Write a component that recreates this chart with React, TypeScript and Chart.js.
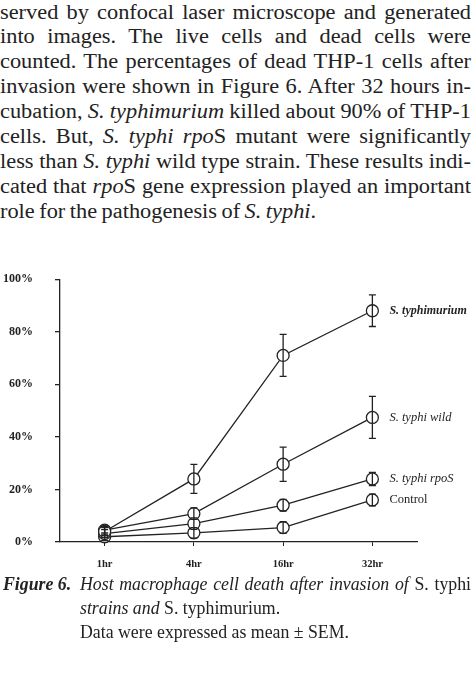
import React, { useEffect, useRef } from 'react';
import { Chart, registerables } from 'chart.js';

Chart.register(...registerables);

// ---- data ----
const timepoints = ['1hr', '4hr', '16hr', '32hr'];
const yTickValues = [0, 20, 40, 60, 80, 100];
const seriesNames = ['S. typhimurium', 'S. typhi wild', 'S. typhi rpoS', 'Control'];
const typhimuriumMean = [4, 24, 71, 88];
const typhimuriumSem = [1.5, 5.5, 8, 6];
const wildMean = [4.5, 10.8, 29.6, 47.4];
const wildSem = [1.5, 2.2, 6.5, 8];
const rpoSMean = [3.2, 7, 14, 24];
const rpoSSem = [1.5, 2.2, 2.2, 2.5];
const controlMean = [2, 3.5, 5.5, 16];
const controlSem = [1.5, 2, 2.2, 2.2];

const means = [typhimuriumMean, wildMean, rpoSMean, controlMean];
const sems = [typhimuriumSem, wildSem, rpoSSem, controlSem];

// ---- styles ----
const INK = '#222';
const SERIF = "'Liberation Serif', 'Times New Roman', serif";
const seriesLabelFonts = [
  `italic bold 12px ${SERIF}`,
  `italic 12.5px ${SERIF}`,
  `italic 12.5px ${SERIF}`,
  `12.5px ${SERIF}`,
];

const errorBarPlugin = {
  id: 'errorBars',
  afterDatasetsDraw(chart: any) {
    const ctx = chart.ctx;
    const yScale = chart.scales.y;
    ctx.save();
    ctx.strokeStyle = INK;
    ctx.lineWidth = 1.3;
    chart.data.datasets.forEach((ds: any, i: number) => {
      const meta = chart.getDatasetMeta(i);
      meta.data.forEach((pt: any, j: number) => {
        const v = ds.data[j];
        const e = sems[i][j];
        const top = yScale.getPixelForValue(v + e);
        const bot = yScale.getPixelForValue(Math.max(0, v - e));
        const x = pt.x;
        ctx.beginPath();
        ctx.moveTo(x, top);
        ctx.lineTo(x, bot);
        ctx.moveTo(x - 3.5, top);
        ctx.lineTo(x + 3.5, top);
        ctx.moveTo(x - 3.5, bot);
        ctx.lineTo(x + 3.5, bot);
        ctx.stroke();
      });
    });
    ctx.restore();
  },
};

const endLabelPlugin = {
  id: 'endLabels',
  afterDraw(chart: any) {
    const ctx = chart.ctx;
    ctx.save();
    ctx.fillStyle = INK;
    ctx.textAlign = 'left';
    ctx.textBaseline = 'middle';
    chart.data.datasets.forEach((ds: any, i: number) => {
      const meta = chart.getDatasetMeta(i);
      const last = meta.data[meta.data.length - 1];
      ctx.font = seriesLabelFonts[i];
      ctx.fillText(ds.label, last.x + 17, last.y);
    });
    ctx.restore();
  },
};

function FigureChart() {
  const ref = useRef<HTMLCanvasElement | null>(null);
  useEffect(() => {
    if (!ref.current) return;
    const chart = new Chart(ref.current, {
      type: 'line',
      data: {
        labels: timepoints,
        datasets: seriesNames.map((name, i) => ({
          label: name,
          data: means[i],
          borderColor: INK,
          borderWidth: 1.3,
          backgroundColor: '#ffffff',
          pointRadius: 6,
          pointHoverRadius: 6,
          pointBorderWidth: 1.3,
          pointBorderColor: INK,
          pointBackgroundColor: '#ffffff',
          pointStyle: 'circle',
          tension: 0,
          fill: false,
          clip: false,
        })),
      },
      options: {
        responsive: false,
        animation: false,
        events: [],
        layout: { padding: { top: 22, right: 58, left: 0, bottom: 0 } },
        plugins: {
          legend: { display: false },
          tooltip: { enabled: false },
          title: { display: false },
        },
        scales: {
          x: {
            type: 'category',
            offset: true,
            afterFit: (s: any) => {
              s.height = 38;
            },
            grid: {
              display: true,
              drawOnChartArea: false,
              drawTicks: true,
              tickLength: 4,
              color: INK,
              lineWidth: 1,
            },
            border: { display: true, color: INK, width: 1.3 },
            ticks: {
              color: INK,
              padding: 12,
              font: { family: SERIF, size: 10.5, weight: 'bold' },
              maxRotation: 0,
            },
          },
          y: {
            min: 0,
            max: 100,
            afterFit: (s: any) => {
              s.width = 60;
            },
            afterBuildTicks: (s: any) => {
              s.ticks = yTickValues.map((v) => ({ value: v }));
            },
            grid: {
              display: true,
              drawOnChartArea: false,
              drawTicks: true,
              tickLength: 5,
              color: INK,
              lineWidth: 1.3,
            },
            border: { display: true, color: INK, width: 1.3 },
            ticks: {
              color: INK,
              padding: 22,
              font: { family: SERIF, size: 12, weight: 'bold' },
              callback: (v: any) => `${v}%`,
            },
          },
        },
      },
      plugins: [errorBarPlugin, endLabelPlugin],
    });
    return () => chart.destroy();
  }, []);
  return (
    <canvas
      ref={ref}
      width={475}
      height={330}
      style={{ position: 'absolute', left: 0, top: 250, width: 475, height: 330 }}
    />
  );
}

const SCALE_X = 1.09;
const lineStyle = (top: number, justify: boolean): React.CSSProperties => ({
  position: 'absolute',
  left: 0,
  top,
  width: 471 / SCALE_X,
  textAlign: justify ? 'justify' : 'left',
  textAlignLast: justify ? 'justify' : 'left',
  whiteSpace: 'nowrap',
  wordSpacing: '-1px',
  transform: `scaleX(${SCALE_X})`,
  transformOrigin: 'left center',
});

export default function App() {
  useEffect(() => {
    document.body.style.margin = '0';
  }, []);
  const pTop = -0.5;
  const lh = 24.9;
  const paragraph: React.ReactNode[] = [
    <>served by confocal laser microscope and generated</>,
    <>into images. The live cells and dead cells were</>,
    <>counted. The percentages of dead THP-1 cells after</>,
    <>invasion were shown in Figure 6. After 32 hours in-</>,
    <>cubation, <i>S. typhimurium</i> killed about 90% of THP-1</>,
    <>cells. But, <i>S. typhi rpo</i>S mutant were significantly</>,
    <>less than <i>S. typhi</i> wild type strain. These results indi-</>,
    <>cated that <i>rpo</i>S gene expression played an important</>,
    <>role for the pathogenesis of <i>S. typhi</i>.</>,
  ];
  return (
    <div
      style={{
        position: 'fixed',
        left: 0,
        top: 0,
        width: 475,
        height: 683,
        overflow: 'hidden',
        background: '#fff',
        color: INK,
        fontFamily: SERIF,
      }}
    >
      <div style={{ position: 'absolute', left: 0, top: 0, width: 475, height: 250, fontSize: 20.5, lineHeight: `${lh}px` }}>
        {paragraph.map((content, i) => (
          <div key={i} style={{ ...lineStyle(pTop + i * lh, i < paragraph.length - 1), height: lh }}>
            {content}
          </div>
        ))}
      </div>
      <FigureChart />
      <div style={{ position: 'absolute', left: 0, top: 572, width: 475, fontSize: 17.8, lineHeight: '24px' }}>
        <div style={{ position: 'absolute', left: 3, top: 0, whiteSpace: 'nowrap' }}>
          <b><i>Figure 6.</i></b>
        </div>
        <div style={{ position: 'absolute', left: 80, top: 0, width: 391, textAlign: 'justify', textAlignLast: 'justify', whiteSpace: 'nowrap' }}>
          <i>Host macrophage cell death after invasion of</i> S. typhi
        </div>
        <div style={{ position: 'absolute', left: 80, top: 24, whiteSpace: 'nowrap' }}>
          <i>strains and</i> S. typhimurium.
        </div>
        <div style={{ position: 'absolute', left: 80, top: 48, whiteSpace: 'nowrap' }}>
          Data were expressed as mean ± SEM.
        </div>
      </div>
    </div>
  );
}
